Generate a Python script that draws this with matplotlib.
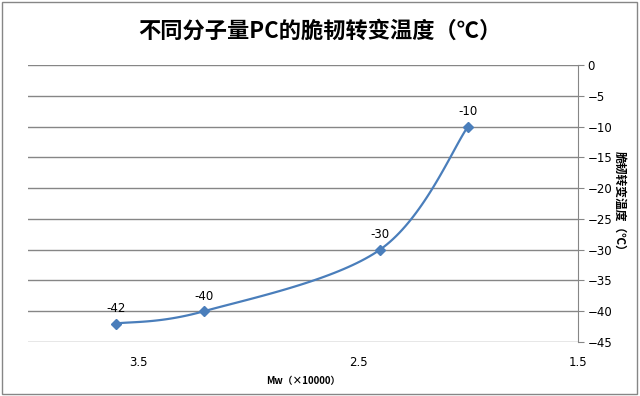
import numpy as np
import matplotlib.pyplot as plt
from matplotlib.patches import Rectangle

plt.rcParams['font.family'] = ['Noto Sans CJK SC', 'DejaVu Sans']

# data
mw = [3.6, 3.2, 2.4, 2.0]
temp = [-42, -40, -30, -10]
y_ticks = list(range(0, -50, -5))
x_ticks = [3.5, 2.5, 1.5]

title = "不同分子量PC的脆韧转变温度（℃）"
x_label = "Mw（×10000）"
y_label = "脆韧转变温度（℃）"

line_color = "#4A7EBB"
grid_color = "#868686"


def catmull_rom(xs, ys, n=40):
    """Smooth curve through the points, like Excel's smoothed line."""
    px = [xs[0]] + list(xs) + [xs[-1]]
    py = [ys[0]] + list(ys) + [ys[-1]]
    out_x, out_y = [], []
    for i in range(1, len(px) - 2):
        t = np.linspace(0, 1, n)
        for p, out in ((px, out_x), (py, out_y)):
            p0, p1, p2, p3 = p[i - 1], p[i], p[i + 1], p[i + 2]
            out.extend(0.5 * ((2 * p1) + (-p0 + p2) * t
                              + (2 * p0 - 5 * p1 + 4 * p2 - p3) * t ** 2
                              + (-p0 + 3 * p1 - 3 * p2 + p3) * t ** 3))
    return out_x, out_y


fig = plt.figure(figsize=(6.4, 3.96), dpi=100)
ax = fig.add_axes([28 / 640, 1 - 342 / 396, 550 / 640, 277 / 396])

ax.set_xlim(4.0, 1.5)
ax.set_ylim(-45, 0)

sx, sy = catmull_rom(mw, temp)
ax.plot(sx, sy, color=line_color, lw=1.6, zorder=3)
ax.plot(mw, temp, linestyle="none", marker="D", markersize=5.5,
        color=line_color, zorder=4)
for x, y in zip(mw, temp):
    ax.annotate(str(y), (x, y), xytext=(0, 6), textcoords="offset points",
                ha="center", va="bottom", fontsize=8.5, family="DejaVu Sans")

ax.set_yticks(y_ticks)
ax.set_xticks(x_ticks)
ax.set_xticklabels([str(v) for v in x_ticks], family="DejaVu Sans")
ax.yaxis.tick_right()
ax.yaxis.set_label_position("right")
ax.grid(axis="y", color=grid_color, lw=1)
ax.set_axisbelow(True)
for side in ("top", "left", "bottom"):
    ax.spines[side].set_visible(False)
ax.spines["right"].set_color(grid_color)
ax.tick_params(axis="y", length=4, color=grid_color, labelsize=8.5, pad=3)
ax.tick_params(axis="x", length=0, labelsize=8.5, pad=10)
for lab in ax.get_yticklabels():
    lab.set_family("DejaVu Sans")

ax.set_ylabel(y_label, rotation=270, fontsize=8.5, fontweight="bold", labelpad=10)
ax.set_xlabel(x_label, fontsize=7, fontweight="bold", labelpad=5)

fig.suptitle(title, fontsize=16, fontweight="bold", y=0.95)
fig.patches.append(Rectangle((0.003, 0.004), 0.993, 0.99, transform=fig.transFigure,
                             fill=False, edgecolor=grid_color, lw=1))

fig.savefig("out.png", dpi=100)
